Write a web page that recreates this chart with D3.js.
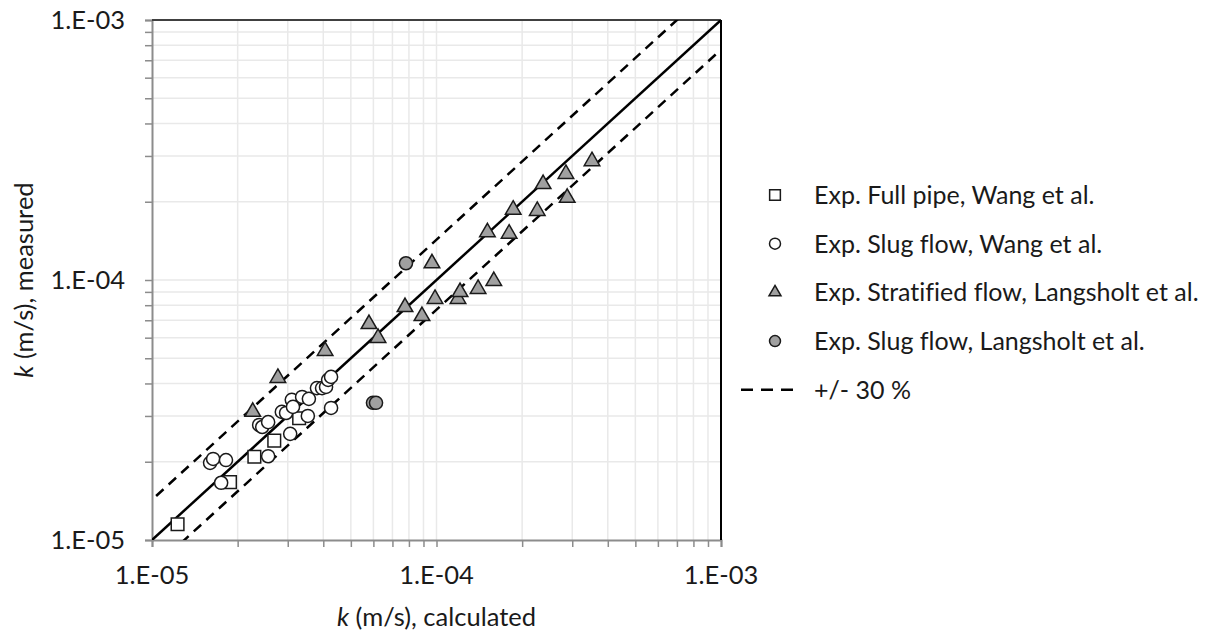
<!DOCTYPE html>
<html>
<head>
<meta charset="utf-8">
<script src="https://cdn.jsdelivr.net/npm/d3@7"></script>
<style>
body{margin:0;background:#fff;}
text{font-family:Lato,"Open Sans",sans-serif;fill:#1a1a1a;font-variant-ligatures:none;}
</style>
</head>
<body>
<div id="chart"></div>
<script>
// measured vs calculated k (m/s)
var fullPipeWang = [
	[1.23e-5,1.15e-5],[1.88e-5,1.67e-5],[2.29e-5,2.09e-5],[2.69e-5,2.41e-5],[3.29e-5,2.94e-5]
]
var slugWang = [
	[1.60e-5,1.98e-5],[1.64e-5,2.05e-5],[1.82e-5,2.03e-5],[1.75e-5,1.66e-5],[2.56e-5,2.10e-5],
	[3.06e-5,2.56e-5],[2.38e-5,2.77e-5],[2.44e-5,2.72e-5],[2.56e-5,2.84e-5],[2.86e-5,3.11e-5],
	[2.96e-5,3.08e-5],[3.10e-5,3.46e-5],[3.13e-5,3.25e-5],[3.37e-5,3.55e-5],[3.56e-5,3.49e-5],
	[3.53e-5,3.00e-5],[3.80e-5,3.84e-5],[3.96e-5,3.84e-5],[4.09e-5,3.88e-5],[4.16e-5,4.13e-5],
	[4.26e-5,4.24e-5],[4.26e-5,3.22e-5]
]
var stratifiedLangsholt = [
	[2.26e-5,3.14e-5],[2.77e-5,4.24e-5],[4.06e-5,5.38e-5],[5.79e-5,6.83e-5],[6.23e-5,6.04e-5],
	[7.75e-5,7.94e-5],[8.89e-5,7.33e-5],[9.64e-5,1.17e-4],[9.88e-5,8.53e-5],[1.19e-4,8.53e-5],
	[1.21e-4,9.07e-5],[1.40e-4,9.32e-5],[1.59e-4,1.00e-4],[1.51e-4,1.54e-4],[1.80e-4,1.52e-4],
	[1.86e-4,1.88e-4],[2.26e-4,1.86e-4],[2.37e-4,2.36e-4],[2.85e-4,2.58e-4],[2.88e-4,2.09e-4],
	[3.52e-4,2.89e-4]
]
var slugLangsholt = [
	[7.81e-5,1.16e-4],[5.98e-5,3.37e-5],[6.13e-5,3.37e-5]
]
var legendLabels = [
	"Exp. Full pipe, Wang et al.",
	"Exp. Slug flow, Wang et al.",
	"Exp. Stratified flow, Langsholt et al.",
	"Exp. Slug flow, Langsholt et al.",
	"+/- 30 %"
]
var tickValues = [1e-5,1e-4,1e-3]
var tickLabels = ["1.E-05","1.E-04","1.E-03"]
var bandFactors = [1/0.7, 1/1.3]

var margin = {top:20, right:490, bottom:95, left:152},
	width = 1211 - margin.left - margin.right,
	height = 635 - margin.top - margin.bottom

var svg = d3.select("#chart").append("svg").attr("width",1211).attr("height",635)
var g = svg.append("g").attr("transform","translate("+margin.left+","+margin.top+")")

var x = d3.scaleLog().domain([1e-5,1e-3]).range([0,width])
var y = d3.scaleLog().domain([1e-5,1e-3]).range([height,0])

// every 1..9 in each decade
var minor = []
for(var e=-5;e<-3;e++){
	for(var m=1;m<10;m++){ minor.push(m*Math.pow(10,e)) }
}
minor.push(1e-3)

g.append("g").selectAll("line").data(minor.slice(1,-1)).enter().append("line")
	.attr("x1",d=>x(d)).attr("x2",d=>x(d)).attr("y1",0).attr("y2",height)
	.attr("stroke","#e9e9e9").attr("stroke-width",1.5)
g.append("g").selectAll("line").data(minor.slice(1,-1)).enter().append("line")
	.attr("y1",d=>y(d)).attr("y2",d=>y(d)).attr("x1",0).attr("x2",width)
	.attr("stroke","#e9e9e9").attr("stroke-width",1.5)

var xAxis = g.append("g").attr("transform","translate(0,"+height+")")
	.call(d3.axisBottom(x).tickValues(minor).tickSize(7).tickFormat(""))
var yAxis = g.append("g")
	.call(d3.axisLeft(y).tickValues(minor).tickSize(7).tickFormat(""))
g.selectAll(".domain").attr("stroke","#8c8c8c").attr("stroke-width",2)
g.selectAll(".tick line").attr("stroke","#8c8c8c").attr("stroke-width",1.5)

// frame top and right
g.append("line").attr("x1",0).attr("x2",width).attr("y1",0).attr("y2",0)
	.attr("stroke","#404040").attr("stroke-width",2)
g.append("line").attr("x1",width).attr("x2",width).attr("y1",0).attr("y2",height)
	.attr("stroke","#000").attr("stroke-width",2)

g.append("g").selectAll("text").data(tickValues).enter().append("text")
	.attr("x",d=>x(d)).attr("y",height+44).attr("text-anchor","middle")
	.attr("font-size","25.5px").text((d,i)=>tickLabels[i])
g.append("g").selectAll("text").data(tickValues).enter().append("text")
	.attr("x",-27).attr("y",d=>y(d)+9).attr("text-anchor","end")
	.attr("font-size","25.5px").text((d,i)=>tickLabels[i])

var xt = svg.append("text").attr("x",margin.left+width/2).attr("y",626)
	.attr("text-anchor","middle").attr("font-size","25.5px")
xt.append("tspan").attr("font-style","italic").text("k")
xt.append("tspan").text(" (m/s), calculated")
var yt = svg.append("text").attr("transform","translate(33,"+(margin.top+height/2)+") rotate(-90)")
	.attr("text-anchor","middle").attr("font-size","25.5px")
yt.append("tspan").attr("font-style","italic").text("k")
yt.append("tspan").text(" (m/s), measured")

g.append("clipPath").attr("id","clip").append("rect").attr("width",width).attr("height",height)
var lines = g.append("g").attr("clip-path","url(#clip)")
var line = d3.line().x(d=>x(d[0])).y(d=>y(d[1]))
lines.selectAll(".band").data(bandFactors).enter().append("path")
	.attr("d",f=>line([[1e-6,1e-6*f],[1e-2,1e-2*f]]))
	.attr("fill","none").attr("stroke","#000").attr("stroke-width",2.5).attr("stroke-dasharray","10,7")
lines.append("path").attr("d",line([[1e-5,1e-5],[1e-3,1e-3]]))
	.attr("fill","none").attr("stroke","#000").attr("stroke-width",2.5)

var sym = {
	square:d3.symbol().type(d3.symbolSquare).size(160),
	circle:d3.symbol().type(d3.symbolCircle).size(135),
	triangle:d3.symbol().type(d3.symbolTriangle).size(105)
}
var series = [
	{data:fullPipeWang, shape:"square", fill:"#fff"},
	{data:slugWang, shape:"circle", fill:"#fff"},
	{data:stratifiedLangsholt, shape:"triangle", fill:"#a0a0a0"},
	{data:slugLangsholt, shape:"circle", fill:"#a0a0a0"}
]
series.forEach(function(s){
	g.append("g").selectAll("path").data(s.data).enter().append("path")
		.attr("d",sym[s.shape]())
		.attr("transform",d=>"translate("+x(d[0])+","+(y(d[1])+(s.shape=="triangle"?1:0))+")")
		.attr("fill",s.fill).attr("stroke","#1a1a1a").attr("stroke-width",1.5)
})

// legend
var legSym = {
	square:d3.symbol().type(d3.symbolSquare).size(115),
	circle:d3.symbol().type(d3.symbolCircle).size(95),
	triangle:d3.symbol().type(d3.symbolTriangle).size(62)
}
var leg = svg.append("g").attr("transform","translate(775,195)")
legendLabels.forEach(function(t,i){
	var row = leg.append("g").attr("transform","translate(0,"+(i*48.7)+")")
	if(i<4){
		row.append("path").attr("d",legSym[series[i].shape]())
			.attr("fill",series[i].fill).attr("stroke","#1a1a1a").attr("stroke-width",1.5)
	}else{
		row.append("line").attr("x1",-34).attr("x2",18).attr("y1",0).attr("y2",0)
			.attr("stroke","#000").attr("stroke-width",2.5).attr("stroke-dasharray","12,8")
	}
	row.append("text").attr("x",39).attr("y",9).attr("font-size","25px").text(t)
})
</script>
</body>
</html>
